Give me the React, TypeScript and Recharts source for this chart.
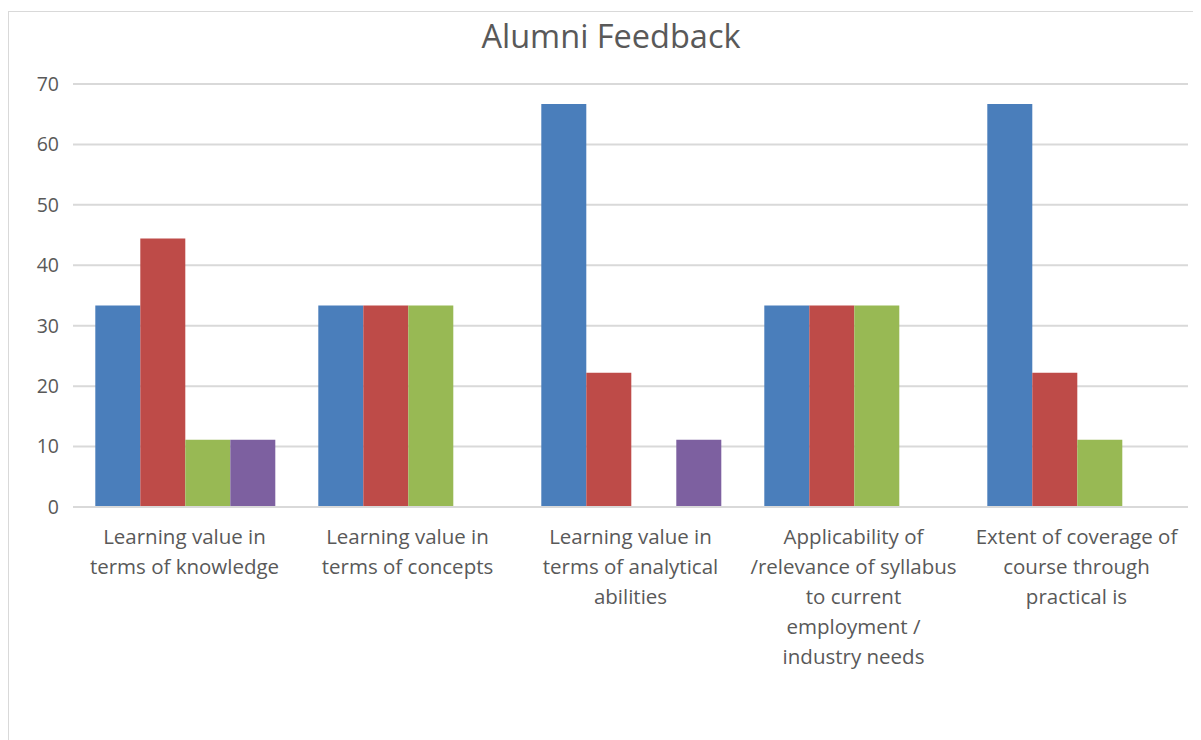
import React from "react";
import { BarChart, Bar, XAxis, YAxis, CartesianGrid } from "recharts";

const categories = [
  "Learning value in|terms of knowledge",
  "Learning value in|terms of concepts",
  "Learning value in|terms of analytical|abilities",
  "Applicability of|/relevance of syllabus|to current|employment /|industry needs",
  "Extent of coverage of|course through|practical is",
];
const series1 = [33.33, 33.33, 66.67, 33.33, 66.67];
const series2 = [44.44, 33.33, 22.22, 33.33, 22.22];
const series3 = [11.11, 33.33, 0, 33.33, 11.11];
const series4 = [11.11, 0, 11.11, 0, 0];
const yTicks = [0, 10, 20, 30, 40, 50, 60, 70];
const seriesNames = ["Series 1", "Series 2", "Series 3", "Series 4"];
const colors = ["#4a7ebb", "#be4b48", "#98b954", "#7d60a0"];

const data = categories.map((c, i) => ({
  name: c,
  s1: series1[i],
  s2: series2[i],
  s3: series3[i],
  s4: series4[i],
}));

const FONT = "'Open Sans', 'Noto Sans', sans-serif";

const XTick = (props: any) => {
  const { x, y, payload } = props;
  const lines = String(payload.value).split("|");
  return (
    <g transform={`translate(${x},${y})`}>
      {lines.map((l: string, i: number) => (
        <text
          key={i}
          x={0}
          y={29 + i * 30}
          textAnchor="middle"
          fill="#595959"
          fontSize={20.5}
          fontFamily={FONT}
        >
          {l}
        </text>
      ))}
    </g>
  );
};

export default function App() {
  return (
    <div
      style={{
        position: "relative",
        marginTop: 3,
        width: 1195,
        height: 729,
        borderLeft: "1.5px solid #d9d9d9",
        borderTop: "1.5px solid #d9d9d9",
        background: "#fff",
      }}
    >
      <div
        style={{
          position: "absolute",
          left: 0,
          width: 1204,
          top: 1,
          textAlign: "center",
          fontFamily: FONT,
          fontSize: 32.5,
          color: "#595959",
        }}
      >
        Alumni Feedback
      </div>
      <BarChart
        width={1195}
        height={729}
        data={data}
        margin={{ top: 72, right: 16, left: 0, bottom: 0 }}
        barCategoryGap="10%"
        barGap={0}
      >
        <CartesianGrid vertical={false} stroke="#d9d9d9" strokeWidth={2} />
        <XAxis
          dataKey="name"
          height={234}
          interval={0}
          tick={<XTick />}
          tickLine={false}
          axisLine={{ stroke: "#d9d9d9", strokeWidth: 2 }}
        />
        <YAxis
          width={64}
          domain={[0, 70]}
          ticks={yTicks}
          tickLine={false}
          axisLine={false}
          tickMargin={8}
          tick={{ fill: "#595959", fontSize: 19.5, fontFamily: FONT }}
        />
        <Bar dataKey="s1" name={seriesNames[0]} fill={colors[0]} isAnimationActive={false} />
        <Bar dataKey="s2" name={seriesNames[1]} fill={colors[1]} isAnimationActive={false} />
        <Bar dataKey="s3" name={seriesNames[2]} fill={colors[2]} isAnimationActive={false} />
        <Bar dataKey="s4" name={seriesNames[3]} fill={colors[3]} isAnimationActive={false} />
      </BarChart>
    </div>
  );
}
